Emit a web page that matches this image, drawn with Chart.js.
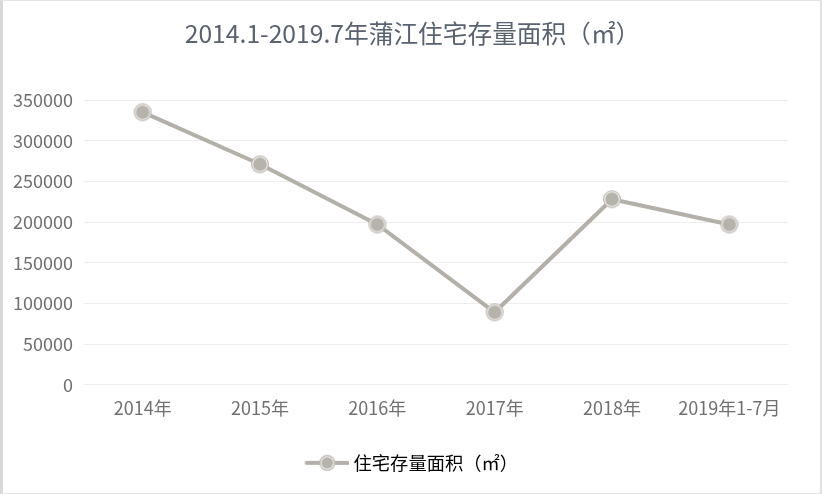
<!DOCTYPE html>
<html>
<head>
<meta charset="utf-8">
<script src="https://cdn.jsdelivr.net/npm/chart.js@4/dist/chart.umd.min.js"></script>
<style>
  html, body { margin: 0; padding: 0; background: #fff; }
  #wrap { width: 822px; height: 494px; box-sizing: border-box; border: 1px solid #e4e4e4; border-left: 3px solid #d8d8d8; border-right: 2px solid #e0e0e0; position: relative; }
  canvas { display: block; }
  #title { position: absolute; left: 7px; top: 16px; width: 805px; text-align: center; font-family: "Microsoft YaHei", "Noto Sans CJK SC", "Noto Sans", sans-serif; font-size: 24.7px; line-height: 30px; color: #5a6270; white-space: nowrap; }
</style>
</head>
<body>
<div id="wrap"><div id="title"></div><canvas id="c" width="817" height="492"></canvas></div>
<script>
const categories = ['2014年', '2015年', '2016年', '2017年', '2018年', '2019年1-7月'];
const stockArea = [335000, 271000, 197000, 89000, 228000, 197000];
const seriesName = '住宅存量面积（㎡）';
const chartTitle = '2014.1-2019.7年蒲江住宅存量面积（㎡）';
const yTicks = [0, 50000, 100000, 150000, 200000, 250000, 300000, 350000];

document.getElementById('title').textContent = chartTitle;

const FONT = '"Microsoft YaHei", "Noto Sans CJK SC", "Noto Sans", sans-serif';
const LINE = '#b3afa9';

function makeMarker() {
  const c = document.createElement('canvas');
  c.width = 20; c.height = 20;
  const g = c.getContext('2d');
  g.beginPath(); g.arc(10, 10, 9, 0, Math.PI * 2); g.fillStyle = '#bdb9b3'; g.fill();
  g.beginPath(); g.arc(10, 10, 7.8, 0, Math.PI * 2); g.fillStyle = '#f4f3f1'; g.fill();
  g.beginPath(); g.arc(10, 10, 6.8, 0, Math.PI * 2); g.fillStyle = '#b6b2ac'; g.fill();
  return c;
}
function makeLegendMarker() {
  const c = document.createElement('canvas');
  c.width = 74; c.height = 18;
  const g = c.getContext('2d');
  const cx = 52.6;
  g.strokeStyle = LINE; g.lineWidth = 4; g.lineCap = 'round';
  g.beginPath(); g.moveTo(32, 9); g.lineTo(72.5, 9); g.stroke();
  g.beginPath(); g.arc(cx, 9, 8, 0, Math.PI * 2); g.fillStyle = '#bdb9b3'; g.fill();
  g.beginPath(); g.arc(cx, 9, 6.8, 0, Math.PI * 2); g.fillStyle = '#f4f3f1'; g.fill();
  g.beginPath(); g.arc(cx, 9, 5.8, 0, Math.PI * 2); g.fillStyle = '#b6b2ac'; g.fill();
  return c;
}
const marker = makeMarker();
const legendMarker = makeLegendMarker();

new Chart(document.getElementById('c'), {
  type: 'line',
  data: {
    labels: categories,
    datasets: [{
      label: seriesName,
      data: stockArea,
      borderColor: LINE,
      borderWidth: 4,
      pointStyle: marker,
      pointRadius: 9,
      tension: 0,
      fill: false
    }]
  },
  options: {
    responsive: false,
    animation: false,
    layout: { padding: { left: 6, right: 32, top: 99, bottom: 11 } },
    plugins: {
      title: { display: false },
      legend: {
        position: 'bottom',
        labels: {
          usePointStyle: true,
          pointStyleWidth: 65.5,
          boxHeight: 16,
          color: '#707070',
          font: { family: FONT, size: 18.3 },
          padding: 12,
          generateLabels: (chart) => [{
            text: seriesName,
            pointStyle: legendMarker,
            fillStyle: LINE,
            strokeStyle: LINE,
            lineWidth: 0,
            hidden: false,
            datasetIndex: 0
          }]
        }
      },
      tooltip: { enabled: false }
    },
    scales: {
      x: {
        offset: true,
        afterFit: (axis) => { axis.height = 57; },
        grid: { display: false, drawTicks: false },
        border: { display: false },
        ticks: { color: '#707070', font: { family: FONT, size: 18 }, padding: 13, maxRotation: 0 }
      },
      y: {
        min: 0,
        max: 350000,
        afterBuildTicks: (axis) => { axis.ticks = yTicks.map(v => ({ value: v })); },
        afterFit: (axis) => { axis.width = 75; },
        grid: { color: '#eeeeee', lineWidth: 1, drawTicks: false },
        border: { display: false },
        ticks: { color: '#707070', font: { family: FONT, size: 18 }, padding: 11, callback: (v) => String(v) }
      }
    }
  }
});
</script>
</body>
</html>
